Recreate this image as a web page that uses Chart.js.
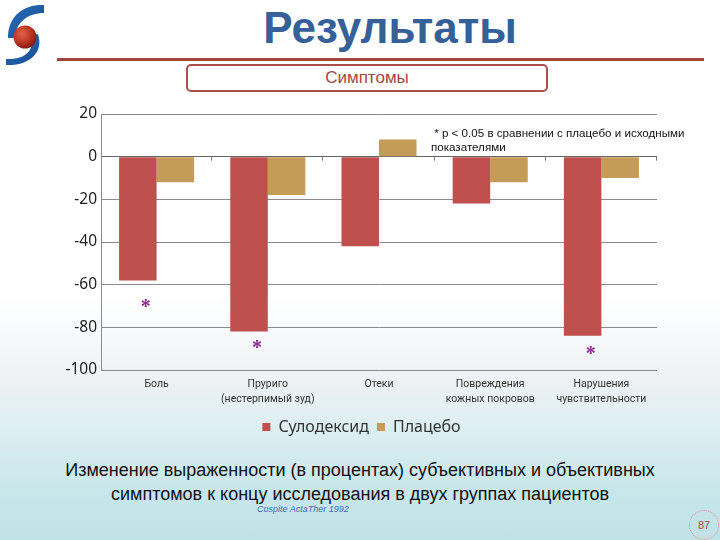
<!DOCTYPE html>
<html lang="ru">
  <head>
    <meta charset="utf-8">
    <title>Результаты — Симптомы</title>
    <script src="https://cdn.jsdelivr.net/npm/chart.js@4.4.0/dist/chart.umd.min.js"></script>
    <style>
      html, body { margin: 0; padding: 0; }
      body {
        width: 720px; height: 540px; position: relative; overflow: hidden;
        font-family: "Liberation Sans", Arial, sans-serif;
        background: linear-gradient(to bottom, #ffffff 0%, #ffffff 55%, #eef2f4 70%, #dceef1 80%, #c9e7eb 90%, #bfe2e7 100%);
      }
      #logo { position: absolute; left: 0; top: 0; }
      #title {
        position: absolute; left: 150px; width: 480px; top: 3px; text-align: center;
        font: bold 44px "Liberation Sans", Arial, sans-serif; color: #35609a;
      }
      #rule { position: absolute; left: 57px; width: 647px; top: 58px; height: 3px; background: #a4423e; }
      #subtitle {
        position: absolute; left: 186px; top: 64px; width: 358px; height: 24px;
        border: 2px solid #a8504c; border-radius: 5px; background: #fff;
        text-align: center; font: 17px "Liberation Sans", Arial, sans-serif; line-height: 24px; color: #a24744;
      }
      #chartbox { position: absolute; left: 0; top: 100px; width: 720px; height: 352px; }
      #note {
        position: absolute; left: 431px; top: 126px; font: 11.6px "Liberation Sans", Arial, sans-serif;
        line-height: 14px; color: #111; white-space: nowrap;
      }
      #caption {
        position: absolute; left: 0; width: 720px; top: 458px; text-align: center;
        font: 18px "Liberation Sans", Arial, sans-serif; line-height: 24px; color: #111;
      }
      #source {
        position: absolute; left: 257px; top: 504px; font: italic 9px "Liberation Sans", Arial, sans-serif; color: #3f6db5;
      }
      #page {
        position: absolute; left: 689px; top: 510px; width: 28px; height: 28px; border-radius: 50%;
        border: 1px dotted #d88a8a; text-align: center;
        font: 11px "Liberation Sans", Arial, sans-serif; line-height: 28px; color: #b04848;
      }
    </style>
  </head>
  <body>
    <svg id="logo" width="52" height="70" viewBox="0 0 52 70">
      <defs>
        <radialGradient id="ball" cx="0.38" cy="0.35" r="0.7">
          <stop offset="0" stop-color="#e0644a"/>
          <stop offset="0.6" stop-color="#b8321f"/>
          <stop offset="1" stop-color="#7a1a10"/>
        </radialGradient>
        <linearGradient id="ribbon" x1="0" y1="0" x2="1" y2="1">
          <stop offset="0" stop-color="#2a6cb8"/>
          <stop offset="1" stop-color="#174f93"/>
        </linearGradient>
      </defs>
      <path d="M44 5 C26 4 8 14 8 38 L15 38 C16 22 28 13 44 13 Z" fill="url(#ribbon)"/>
      <path d="M38 34 C44 52 30 66 6 65 L6 59 C26 60 34 50 32 36 Z" fill="url(#ribbon)"/>
      <circle cx="25" cy="37" r="11.5" fill="url(#ball)"/>
    </svg>
    <div id="title">Результаты</div>
    <div id="rule"></div>
    <div id="subtitle">Симптомы</div>

    <div id="chartbox"><canvas id="chart" width="720" height="352"></canvas></div>
    <div id="note">&nbsp;* p &lt; 0.05 в сравнении с плацебо и исходными<br>показателями</div>

    <div id="caption">Изменение выраженности (в процентах) субъективных и объективных<br>симптомов к концу исследования в двух группах пациентов</div>
    <div id="source">Cospite ActaTher 1992</div>
    <div id="page">87</div>

    <script>
      // values (change in %, end of study)
      const categories = [
        ['Боль'],
        ['Пруриго', '(нестерпимый зуд)'],
        ['Отеки'],
        ['Повреждения', 'кожных покровов'],
        ['Нарушения', 'чувствительности']
      ];
      const sulodexide = [-58, -82, -42, -22, -84];
      const placebo = [-12, -18, 8, -12, -10];
      // where the significance asterisks sit (y value), null = no mark
      const starValues = [-69, -88, null, null, -91];
      const yMin = -100, yMax = 20, yStep = 20;

      const RED = '#c0504d';
      const GOLD = '#c49c57';
      const LABEL_FONT = 'Roboto, "Noto Sans", sans-serif';
      const TICK_FONT = '"Noto Sans", "Liberation Sans", sans-serif';

      // little tick marks on the zero line between categories + asterisks
      const extras = {
        id: 'extras',
        afterDatasetsDraw(chart) {
          const ctx = chart.ctx;
          const x = chart.scales.x, y = chart.scales.y;
          const y0 = y.getPixelForValue(0);
          const n = categories.length;
          ctx.save();
          ctx.strokeStyle = '#777';
          ctx.lineWidth = 1;
          for (let i = 1; i <= n; i++) {
            const px = Math.round(x.left + (x.right - x.left) * i / n) - 0.5;
            ctx.beginPath();
            ctx.moveTo(px, y0);
            ctx.lineTo(px, y0 + 4);
            ctx.stroke();
          }
          const bars = chart.getDatasetMeta(0).data;
          ctx.fillStyle = '#8a2a8e';
          ctx.font = 'bold 20px "Liberation Serif", serif';
          ctx.textAlign = 'center';
          ctx.textBaseline = 'middle';
          starValues.forEach((v, i) => {
            if (v === null) return;
            ctx.fillText('*', bars[i].x + 8, y.getPixelForValue(v) + 4);
          });
          ctx.restore();
        }
      };

      const ctx = document.getElementById('chart').getContext('2d');
      const myChart = new Chart(ctx, {
        type: 'bar',
        data: {
          labels: categories,
          datasets: [
            { label: 'Сулодексид', data: sulodexide, backgroundColor: RED },
            { label: 'Плацебо', data: placebo, backgroundColor: GOLD }
          ]
        },
        options: {
          responsive: false,
          animation: false,
          datasets: { bar: { categoryPercentage: 0.675, barPercentage: 1.0 } },
          layout: { padding: { left: 66, right: 63, top: 14, bottom: 7 } },
          plugins: {
            tooltip: { enabled: false },
            legend: {
              position: 'bottom',
              labels: {
                boxWidth: 8, boxHeight: 8, padding: 8, color: '#333',
                font: { family: TICK_FONT, size: 16 }
              }
            }
          },
          scales: {
            x: {
              grid: { display: false, drawTicks: false },
              border: { display: false },
              ticks: {
                color: '#333', padding: 6, maxRotation: 0, autoSkip: false,
                font: { family: LABEL_FONT, size: 10.5, lineHeight: 1.5 }
              },
              afterFit(scale) { scale.height = 41; }
            },
            y: {
              min: yMin, max: yMax,
              grid: {
                color: ctx => ctx.tick && ctx.tick.value === 0 ? '#666' : '#8a8a8a',
                drawTicks: false
              },
              border: { display: true, color: '#8a8a8a' },
              ticks: {
                stepSize: yStep, padding: 4, color: '#222',
                font: { family: TICK_FONT, size: 15.5 }
              },
              afterFit(scale) { scale.width = 35; }
            }
          }
        },
        plugins: [extras]
      });
    </script>
  </body>
</html>
